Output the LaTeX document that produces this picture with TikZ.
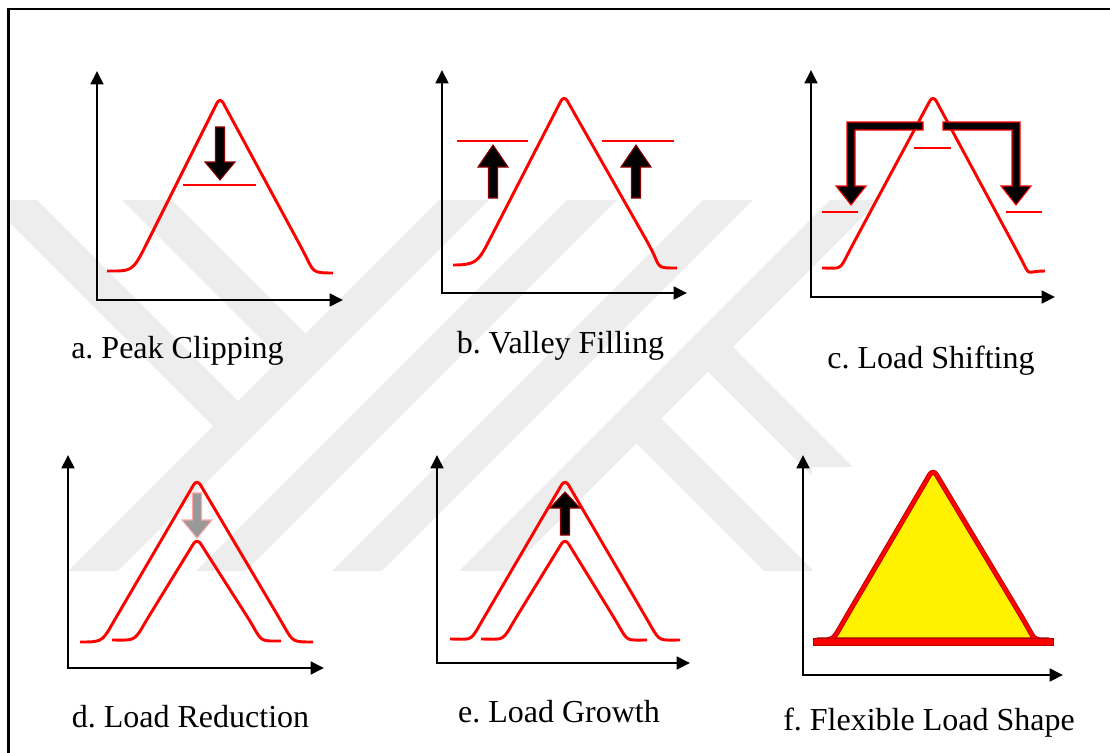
\documentclass[tikz,border=0pt]{standalone}
\usepackage{fontspec}
\setmainfont{Liberation Serif}
\newfontfamily\capfont{Liberation Serif}
\usetikzlibrary{arrows.meta}
\definecolor{wmgray}{RGB}{237,237,237}
\definecolor{darkred}{RGB}{140,0,0}
\definecolor{flexyellow}{RGB}{255,242,0}
\newcommand{\blkarrow}[5][]{%
  \filldraw[blockarrow,#1] (#2-4.5,#3) -- (#2+4.5,#3) -- (#2+4.5,#4) -- (#2+15,#4)
    -- (#2,#5) -- (#2-15,#4) -- (#2-4.5,#4) -- cycle;}
\frenchspacing
\begin{document}
\begin{tikzpicture}[x=0.75pt,y=-0.75pt,
  axis/.style={line width=2pt,arrows={Triangle[length=10pt,width=9.5pt]-Triangle[length=10pt,width=9.5pt]}},
  load/.style={red,line width=2.2pt,rounded corners=5pt},
  level/.style={red,line width=1.1pt},
  blockarrow/.style={fill=black,draw=darkred,line width=0.8pt},
  band/.style={wmgray,line width=26.5pt},
  lbl/.style={anchor=base,font=\capfont\fontsize{24}{28}\selectfont}]
\useasboundingbox (0,0) rectangle (1110,753);

\begin{scope}
  \clip (9,200) rectangle (1110,570);
  \draw[band] (74,590) -- (484,180);
  \draw[band] (202,590) -- (612,180);
  \draw[band] (338,590) -- (748,180);
  \draw[band] (465,590) -- (875,180);
  \draw[band] (-8,180) -- (238,426);
  \draw[band] (127,180) -- (305.5,358.5);
  \draw[band] (636.5,418.5) -- (808,590);
  \draw[band] (708,347) -- (951,590);
\end{scope}
\fill[white] (812,467) rectangle (1075,700);

\draw[line width=1.6pt] (8.5,753) -- (8.5,9) -- (1110,9);

% a
\draw[axis] (97,71) |- (343,300);
\draw[load] (107,271) .. controls +(22,0) and +(-13,25) .. (145,247) -- (220,97) -- (301,247)
  .. controls +(13,25) and +(-22,0) .. (333,273);
\draw[level] (183,185) -- (256,185);
\blkarrow{220}{127}{162}{180}
\node[lbl] (capa) at (177.5,358) {a. Peak Clipping};

% b
\draw[axis] (442,70) |- (687,293);
\draw[load] (453,265) .. controls +(22,0) and +(-13,25) .. (491,237) -- (564,95) -- (648,243)
  .. controls +(13,25) and +(-22,0) .. (677,268);
\draw[level] (457,141) -- (528,141);
\draw[level] (602,141) -- (674,141);
\blkarrow{493}{198}{167}{145}
\blkarrow{636}{198}{167}{145}
\node[lbl] (capb) at (560.5,353) {b. Valley Filling};

% c
\draw[axis] (811,70) |- (1055,297);
\draw[load] (822,268) .. controls +(20,0) and +(-13,25) .. (852,246) -- (933,95) -- (1018,253)
  .. controls +(13,25) and +(-20,0) .. (1045,271);
\draw[level] (914,148) -- (951,148);
\draw[level] (822,212) -- (858,212);
\draw[level] (1006,212) -- (1042,212);
\filldraw[blockarrow,draw=red] (923,122) -- (847,122) -- (847,186) -- (836,186) -- (851,205)
  -- (866,186) -- (855,186) -- (855,130) -- (923,130) -- cycle;
\filldraw[blockarrow,draw=red] (943,122) -- (1020,122) -- (1020,186) -- (1031,186) -- (1016,205)
  -- (1001,186) -- (1012,186) -- (1012,130) -- (943,130) -- cycle;
\node[lbl] (capc) at (931,368) {c. Load Shifting};

% d
\draw[axis] (68,455) |- (324,668);
\draw[load] (80,642) .. controls +(20,0) and +(-12,21) .. (114,621) -- (197,479) -- (281,621)
  .. controls +(12,21) and +(-20,0) .. (313,642);
\draw[load] (112,640) .. controls +(20,0) and +(-12,21) .. (146,621) -- (197,538) -- (250,621)
  .. controls +(12,21) and +(-20,0) .. (281,641);
\blkarrow[fill=black!40,draw=red!35]{197}{493}{520}{538}
\node[lbl] (capd) at (190.5,727) {d. Load Reduction};

% e
\draw[axis] (437,455) |- (690,663);
\draw[load] (450,639) .. controls +(20,0) and +(-12,21) .. (482,621) -- (565,479) -- (648,621)
  .. controls +(12,21) and +(-20,0) .. (680,640);
\draw[load] (481,639) .. controls +(20,0) and +(-12,21) .. (514,621) -- (565,538) -- (616,621)
  .. controls +(12,21) and +(-20,0) .. (647,640);
\blkarrow{565}{535}{508}{492}
\node[lbl] (cape) at (559,722) {e. Load Growth};

% f
\draw[axis] (803,455) |- (1063,675);
\filldraw[fill=flexyellow,draw=red!70!black,double=red,double distance=2.6pt,line width=0.6pt,rounded corners=5pt]
  (813,640) .. controls +(20,0) and +(-12,21) .. (845,619) -- (933,469) -- (1023,619)
  .. controls +(12,21) and +(-20,0) .. (1053,640) -- cycle;
\filldraw[fill=red,draw=red!70!black,line width=0.6pt] (813,638) rectangle (1053,645);
\node[lbl] (capf) at (929,730) {f. Flexible Load Shape};
\end{tikzpicture}
\end{document}
